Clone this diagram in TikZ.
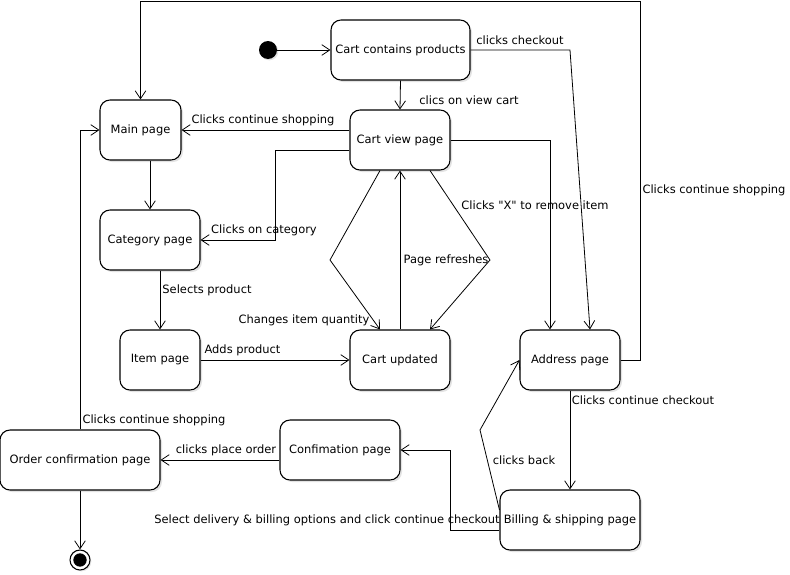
\documentclass[tikz,border=0pt]{standalone}
\usepackage{fontspec}
\setmainfont{DejaVu Sans}[Ligatures=TeXOff]
\usepackage{tikz}
\usetikzlibrary{arrows.meta}
\usetikzlibrary{shadows}

\begin{document}
\begin{tikzpicture}[
            x=0.75pt, y=-0.75pt,
            font=\fontsize{8.6}{10}\selectfont,
            >={Straight Barb[length=6pt,width=8pt]},
            state node/.style={rectangle,rounded corners=7.5pt,draw,fill=white,line width=0.8pt,minimum height=45pt,inner sep=2pt,drop shadow={shadow xshift=1.5pt,shadow yshift=-1.5pt,fill=black!22}},
            start node/.style={circle,fill=black,minimum size=13.5pt,inner sep=0pt,drop shadow={shadow xshift=1pt,shadow yshift=-1pt,fill=black!22}},
            end node/.style={circle,draw,fill=white,line width=0.8pt,minimum size=15pt,inner sep=0pt,drop shadow={shadow xshift=1pt,shadow yshift=-1pt,fill=black!22}},
            trans/.style={->,line width=0.6pt},
            lbl/.style={inner sep=1pt},
            ]

            \useasboundingbox (0,0) rectangle (790,575);

            \node[start node] (start) at (268,50) {};
            \node[state node, minimum width=104.25pt] (cartprod) at (400.5,50) {Cart contains products};
            \node[state node, minimum width=60.75pt] (main) at (140.5,130) {Main page};
            \node[state node, minimum width=75pt] (view) at (400,140) {Cart view page};
            \node[state node, minimum width=75pt] (cat) at (150,240) {Category page};
            \node[state node, minimum width=60pt] (item) at (160,360) {Item page};
            \node[state node, minimum width=75pt] (upd) at (400,360) {Cart updated};
            \node[state node, minimum width=75pt] (addr) at (570,360) {Address page};
            \node[state node, minimum width=120pt] (order) at (80,460) {Order confirmation page};
            \node[state node, minimum width=90pt] (conf) at (340,450) {Confimation page};
            \node[state node, minimum width=105pt] (bill) at (570,520) {Billing \& shipping page};
            \node[end node] (end) at (80,560) {};
            \fill (end.center) circle (5pt);

            \draw[trans] (start) -- (cartprod.west);
            \draw[trans] (cartprod.south) -- (view.north)
                node[lbl] at (469,100) {clics on view cart};
            \draw[trans] (cartprod.east) -- (570,50) -- ([xshift=15pt]addr.north)
                node[lbl] at (520,40) {clicks checkout};
            \draw[trans] (addr.east) -| (640,1) -| (main.north)
                node[lbl] at (714,190) {Clicks continue shopping};
            \draw[trans] ([yshift=7.5pt]view.west) -- (main.east |- 0,130)
                node[lbl] at (263,120) {Clicks continue shopping};
            \draw[trans] ([yshift=-7.5pt]view.west) -- (275,150) |- (cat.east)
                node[lbl] at (264,230) {Clicks on category};
            \draw[trans] (main.south -| cat.north) -- (cat.north);
            \draw[trans] (cat.south -| item.north) -- (item.north)
                node[lbl] at (207,290) {Selects product};
            \draw[trans] (item.east) -- (upd.west)
                node[lbl] at (242.5,350) {Adds product};
            \draw[trans] ([xshift=-15pt]view.south) -- (330,260) -- ([xshift=-15pt]upd.north)
                node[lbl] at (304,320) {Changes item quantity};
            \draw[trans] (upd.north) -- (view.south)
                node[lbl] at (446,260) {Page refreshes};
            \draw[trans] ([xshift=22.5pt]view.south) -- (490,260) -- ([xshift=22.5pt]upd.north)
                node[lbl] at (535,205) {Clicks "X" to remove item};
            \draw[trans] (view.east) -| ([xshift=-15pt]addr.north);
            \draw[trans] (addr.south) -- (bill.north)
                node[lbl] at (643,400) {Clicks continue checkout};
            \draw[trans] ([yshift=7.5pt]bill.west) -- (480,430) -- (addr.west)
                node[lbl] at (524,460) {clicks back};
            \draw[trans] ([yshift=-7.5pt]bill.west) -- (450,530) |- (conf.east)
                node[lbl] at (327,520) {Select delivery \& billing options and click continue checkout};
            \draw[trans] (conf.west |- order.east) -- (order.east)
                node[lbl] at (226,450) {clicks place order};
            \draw[trans] (order.north) |- (main.west)
                node[lbl] at (154,420) {Clicks continue shopping};
            \draw[trans] (order.south) -- (end);
        \end{tikzpicture}
\end{document}
